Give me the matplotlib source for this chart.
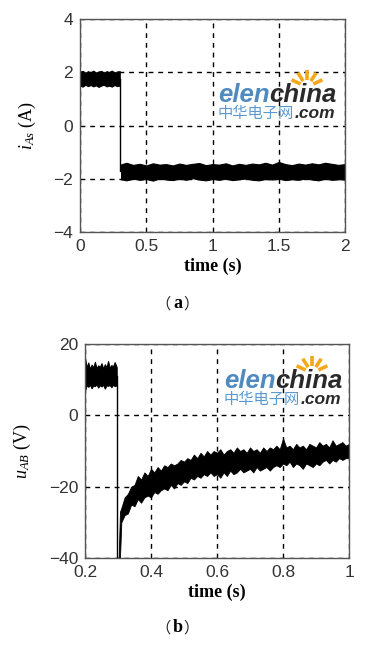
import numpy as np
import matplotlib
matplotlib.use("Agg")
import matplotlib.pyplot as plt
from matplotlib.lines import Line2D

plt.rcParams["mathtext.fontset"] = "custom"
plt.rcParams["mathtext.rm"] = "Liberation Serif"
plt.rcParams["mathtext.it"] = "Liberation Serif:italic"

# ---------------- data ----------------
# (a) stator current i_As: noisy band envelopes
a_t_pos = [0.00, 0.02, 0.04, 0.06, 0.08, 0.10, 0.12, 0.14, 0.16, 0.18, 0.20, 0.22, 0.24, 0.26, 0.28, 0.30]
a_pos_hi = [2.02, 2.05, 1.98, 2.04, 2.00, 2.06, 1.99, 2.03, 2.05, 1.98, 2.04, 2.01, 2.06, 1.99, 2.03, 2.04]
a_pos_lo = [1.50, 1.46, 1.53, 1.48, 1.52, 1.47, 1.51, 1.45, 1.50, 1.53, 1.47, 1.50, 1.46, 1.52, 1.48, 1.50]
a_step_t = [0.30, 0.30]
a_step_v = [1.75, -1.70]
a_t_neg = [0.31, 0.35, 0.40, 0.45, 0.50, 0.55, 0.60, 0.65, 0.70, 0.75, 0.80, 0.85, 0.90, 0.95,
           1.00, 1.05, 1.10, 1.15, 1.20, 1.25, 1.30, 1.35, 1.40, 1.45, 1.50, 1.55, 1.60, 1.65,
           1.70, 1.75, 1.80, 1.85, 1.90, 1.95, 2.00]
a_neg_hi = [-1.46, -1.40, -1.48, -1.44, -1.50, -1.42, -1.47, -1.45, -1.50, -1.43, -1.48, -1.44,
            -1.41, -1.49, -1.45, -1.47, -1.42, -1.50, -1.44, -1.48, -1.43, -1.46, -1.40, -1.47,
            -1.37, -1.45, -1.49, -1.43, -1.47, -1.42, -1.46, -1.40, -1.44, -1.48, -1.45]
a_neg_lo = [-2.02, -2.06, -2.00, -2.04, -2.01, -2.07, -1.99, -2.03, -2.05, -2.00, -2.04, -1.98,
            -2.03, -2.06, -2.01, -2.04, -2.00, -2.05, -2.02, -1.99, -2.04, -2.06, -2.01, -2.03,
            -2.00, -2.05, -2.02, -2.04, -1.99, -2.03, -2.06, -2.00, -2.04, -2.02, -2.03]

# (b) line voltage u_AB: noisy band envelopes
b_t_pos = [0.200, 0.205, 0.210, 0.215, 0.220, 0.225, 0.230, 0.235, 0.240, 0.245, 0.250,
           0.255, 0.260, 0.265, 0.270, 0.275, 0.280, 0.285, 0.290, 0.296]
b_pos_hi = [16.0, 13.5, 14.8, 13.0, 14.2, 13.4, 15.0, 13.2, 14.0, 13.6, 14.6, 13.1, 14.3,
            13.5, 15.2, 13.3, 14.1, 13.7, 14.9, 13.5]
b_pos_lo = [7.0, 8.5, 8.0, 8.6, 7.6, 8.4, 8.2, 8.7, 7.8, 8.5, 8.1, 8.6, 7.5, 8.4, 8.3, 8.5,
            7.9, 8.6, 8.2, 8.4]
b_step_t = [0.296, 0.296, 0.302]
b_step_v = [11.0, -40.0, -40.0]
b_t_neg = [0.302, 0.306,
           0.31, 0.32, 0.33, 0.34, 0.35, 0.36, 0.37, 0.38, 0.39, 0.40,
           0.41, 0.42, 0.43, 0.44, 0.45, 0.46, 0.47, 0.48, 0.49, 0.50,
           0.51, 0.52, 0.53, 0.54, 0.55, 0.56, 0.57, 0.58, 0.59, 0.60,
           0.61, 0.62, 0.63, 0.64, 0.65, 0.66, 0.67, 0.68, 0.69, 0.70,
           0.71, 0.72, 0.73, 0.74, 0.75, 0.76, 0.77, 0.78, 0.79, 0.80,
           0.81, 0.82, 0.83, 0.84, 0.85, 0.86, 0.87, 0.88, 0.89, 0.90,
           0.91, 0.92, 0.93, 0.94, 0.95, 0.96, 0.97, 0.98, 0.99, 1.00]
b_neg_hi = [-40.0, -27.0,
            -26.0, -23.0, -22.0, -20.0, -19.5, -17.0, -18.0, -16.0, -17.0, -15.0,
            -16.0, -14.5, -15.5, -14.0, -14.5, -13.5, -14.0, -13.5, -12.5, -13.0,
            -12.0, -12.5, -11.0, -12.0, -10.5, -11.5, -10.0, -11.0, -10.0, -10.5,
            -9.5, -11.0, -10.0, -9.5, -10.5, -9.0, -10.0, -9.5, -10.5, -9.0,
            -10.0, -9.5, -10.5, -9.0, -10.0, -9.0, -9.5, -8.5, -9.5, -6.5,
            -9.0, -8.5, -9.5, -8.0, -9.0, -8.5, -9.5, -8.0, -8.5, -9.0,
            -7.5, -8.5, -8.0, -9.0, -7.0, -8.5, -8.0, -7.5, -8.5, -8.0]
b_neg_lo = [-40.0, -40.0,
            -30.0, -28.0, -27.5, -25.0, -25.5, -23.5, -24.5, -23.0, -22.5, -23.0,
            -21.5, -22.0, -21.0, -20.5, -21.0, -19.5, -20.5, -19.0, -19.5, -18.5,
            -19.0, -17.5, -18.0, -17.0, -17.5, -16.5, -17.0, -16.0, -17.0, -16.5,
            -17.5, -16.0, -17.0, -15.5, -16.5, -16.0, -15.0, -16.0, -15.5, -15.0,
            -16.0, -14.5, -15.5, -15.0, -14.5, -15.5, -14.5, -14.0, -14.5, -13.5,
            -14.0, -13.0, -14.5, -13.5, -14.0, -15.0, -13.5, -14.0, -14.5, -13.5,
            -14.0, -13.0, -12.5, -13.5, -12.5, -13.0, -12.0, -12.5, -12.0, -12.0]

a_xticks = [0, 0.5, 1, 1.5, 2]
a_xticklabels = ["0", "0.5", "1", "1.5", "2"]
a_yticks = [-4, -2, 0, 2, 4]
b_xticks = [0.2, 0.4, 0.6, 0.8, 1.0]
b_xticklabels = ["0.2", "0.4", "0.6", "0.8", "1"]
b_yticks = [-40, -20, 0, 20]

# ---------------- figure ----------------
W, H = 365, 645
fig = plt.figure(figsize=(W / 100, H / 100), dpi=100)
fig.patch.set_facecolor("white")

def box(l, t, r, b):
    return [l / W, 1 - b / H, (r - l) / W, (b - t) / H]

ax1 = fig.add_axes(box(80, 19, 345, 232))
ax2 = fig.add_axes(box(85, 344, 349, 558))

def style(ax):
    for s in ax.spines.values():
        s.set_color("#555555")
        s.set_linewidth(1.0)
    ax.grid(True, color="black", linestyle=(0, (3.5, 3.5)), linewidth=1.0)
    ax.set_axisbelow(True)
    ax.tick_params(axis="both", which="both", length=0, pad=5)
    for lab in ax.get_xticklabels() + ax.get_yticklabels():
        lab.set_fontfamily("Liberation Sans")
        lab.set_fontsize(12.5)
        lab.set_color("#333333")

lab_kw = dict(fontfamily="Liberation Serif", fontsize=13)

# ---- (a)
ax1.fill_between(a_t_pos, a_pos_lo, a_pos_hi, color="black", linewidth=0.8, edgecolor="black")
ax1.plot(a_step_t, a_step_v, color="black", linewidth=1.0)
ax1.fill_between(a_t_neg, a_neg_lo, a_neg_hi, color="black", linewidth=0.8, edgecolor="black")
ax1.set_xlim(0, 2)
ax1.set_ylim(-4, 4)
ax1.set_xticks(a_xticks)
ax1.set_xticklabels(a_xticklabels)
ax1.set_yticks(a_yticks)
style(ax1)
ax1.set_xlabel("time (s)", fontweight="bold", labelpad=3, **lab_kw)
ax1.set_ylabel(r"$i_{As}$ (A)", labelpad=11, **lab_kw)

# ---- (b)
ax2.fill_between(b_t_pos, b_pos_lo, b_pos_hi, color="black", linewidth=0.8, edgecolor="black")
ax2.plot(b_step_t, b_step_v, color="black", linewidth=1.0)
ax2.fill_between(b_t_neg, b_neg_lo, b_neg_hi, color="black", linewidth=0.6, edgecolor="black")
ax2.set_xlim(0.2, 1.0)
ax2.set_ylim(-40, 20)
ax2.set_xticks(b_xticks)
ax2.set_xticklabels(b_xticklabels)
ax2.set_yticks(b_yticks)
style(ax2)
ax2.set_xlabel("time (s)", fontweight="bold", labelpad=3, **lab_kw)
ax2.set_ylabel(r"$u_{AB}$ (V)", labelpad=11, **lab_kw)

# captions: full-width parentheses with a bold serif letter
def caption(cx, cy, letter):
    fig.text((cx - 7) / W, 1 - cy / H, "（", family="Noto Sans CJK SC", fontsize=11,
             ha="right", va="center", color="#222222")
    fig.text(cx / W, 1 - cy / H, letter, family="Liberation Serif", fontweight="bold",
             fontsize=13, ha="center", va="center")
    fig.text((cx + 5) / W, 1 - cy / H, "）", family="Noto Sans CJK SC", fontsize=11,
             ha="left", va="center", color="#222222")

caption(178, 304, "a")
caption(178, 628, "b")

# watermark
def watermark(x_left, y_base1, y_base2, sun_x, sun_y):
    t1 = fig.text(x_left / W, 1 - y_base1 / H, "elen", color="#4f8ac0", fontsize=18.5,
                  fontweight="bold", fontstyle="italic", family="Liberation Sans", va="baseline")
    fig.canvas.draw()
    bb = t1.get_window_extent()
    fig.text(bb.x1 / W, 1 - y_base1 / H, "china", color="#2a2a2a", fontsize=18.5,
             fontweight="bold", fontstyle="italic", family="Liberation Sans", va="baseline")
    t3 = fig.text(x_left / W, 1 - y_base2 / H, "中华电子网", color="#5a9ad0", fontsize=11,
                  family="Noto Sans CJK SC", va="baseline")
    fig.canvas.draw()
    bb3 = t3.get_window_extent()
    fig.text(bb3.x1 / W, 1 - y_base2 / H, ".com", color="#2a2a2a", fontsize=12.5,
             fontweight="bold", fontstyle="italic", family="Liberation Sans", va="baseline")
    for ang in [25, 57, 90, 123, 155]:
        a = np.deg2rad(ang)
        r0, r1 = 7, 17
        fig.add_artist(Line2D([(sun_x + r0 * np.cos(a)) / W, (sun_x + r1 * np.cos(a)) / W],
                              [1 - (sun_y - r0 * np.sin(a)) / H, 1 - (sun_y - r1 * np.sin(a)) / H],
                              color="#f6a81c", linewidth=2.6, solid_capstyle="butt"))

watermark(218, 102, 118, 307, 87)
watermark(224, 388, 404, 312, 373)

fig.savefig("out.png", dpi=100, facecolor="white")
